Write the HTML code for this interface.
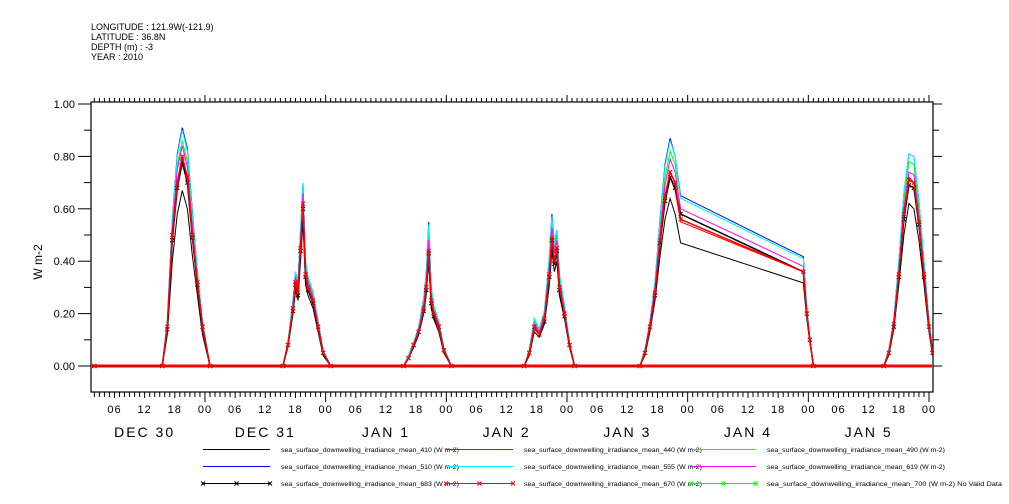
<!DOCTYPE html>
<html><head><meta charset="utf-8"><style>
html,body{margin:0;padding:0;background:#fff;width:1009px;height:504px;overflow:hidden}
svg{display:block;font-family:"Liberation Sans",sans-serif}
</style></head><body>
<svg id="chart" width="1009" height="504" viewBox="0 0 1009 504">
<g font-size="9" fill="#000">
<text x="91" y="30">LONGITUDE : 121.9W(-121.9)</text>
<text x="91" y="40">LATITUDE : 36.8N</text>
<text x="91" y="50">DEPTH (m) : -3</text>
<text x="91" y="60">YEAR : 2010</text>
</g>
<text x="42" y="262" font-size="12" text-anchor="middle" transform="rotate(-90 42 262)">W m-2</text>
<g id="axes"></g>
<g id="series" clip-path="url(#clip)"></g>
<defs><clipPath id="clip"><rect x="91" y="95" width="843" height="300"/></clipPath></defs>
<g id="legend"></g>
</svg>
<script>
const times=[2,
15.5,16.5,17.5,18.5,19.5,20.5,21.5,22.5,23.5,25,
39.5,40.5,41.5,42,42.5,43,43.5,44,44.5,45.5,46.5,47.5,49,
63.5,64.5,65.5,66.5,67.5,68,68.5,69,69.5,70.5,71.5,73,
87.5,88.5,89.5,90.5,91.5,92.5,93,93.5,94,94.5,95.5,96.5,97.5,
110.5,111.5,112.5,113.5,114.5,115.5,116.5,117.5,118.6,143,143.7,144.3,145,
159,160,161,162,163,164,165,166,167,168,168.7];
const s410=[0,
0,.12,.4,.58,.67,.6,.42,.27,.12,0,
0,.07,.2,.29,.25,.4,.55,.31,.27,.22,.13,.04,0,
0,.03,.07,.12,.2,.27,.4,.22,.18,.13,.05,0,
0,.04,.13,.11,.16,.31,.44,.36,.4,.27,.18,.07,0,
0,.04,.13,.25,.42,.56,.64,.58,.47,.317,.18,.09,0,
0,.04,.14,.31,.5,.62,.6,.48,.31,.13,.04];
const s440=[0,
0,.14,.48,.68,.77,.7,.48,.31,.14,0,
0,.08,.21,.31,.27,.44,.6,.34,.29,.24,.14,.05,0,
0,.03,.08,.13,.21,.29,.43,.24,.19,.14,.06,0,
0,.05,.14,.12,.17,.34,.47,.39,.43,.29,.19,.08,0,
0,.05,.14,.27,.46,.62,.72,.67,.55,.36,.2,.1,0,
0,.05,.15,.34,.57,.72,.7,.55,.35,.15,.05];
const s490=[0,
0,.16,.53,.77,.86,.78,.55,.34,.16,0,
0,.09,.24,.35,.31,.5,.68,.38,.33,.27,.16,.06,0,
0,.04,.09,.14,.24,.33,.52,.28,.22,.16,.07,0,
0,.06,.17,.13,.2,.4,.55,.45,.5,.33,.22,.09,0,
0,.06,.16,.31,.53,.72,.82,.77,.64,.41,.21,.11,0,
0,.06,.17,.38,.63,.78,.77,.6,.38,.16,.06];
const s510=[0,
0,.17,.56,.81,.91,.83,.59,.36,.17,0,
0,.09,.25,.36,.32,.52,.7,.4,.34,.28,.17,.06,0,
0,.04,.09,.15,.26,.35,.55,.3,.23,.17,.07,0,
0,.06,.18,.14,.21,.42,.58,.47,.52,.35,.23,.09,0,
0,.06,.17,.32,.56,.77,.87,.8,.65,.417,.22,.11,0,
0,.06,.18,.4,.66,.81,.8,.63,.4,.17,.06];
const s555=[0,
0,.17,.55,.8,.9,.82,.58,.36,.17,0,
0,.09,.25,.36,.32,.52,.7,.4,.34,.28,.17,.06,0,
0,.04,.09,.15,.26,.35,.54,.3,.23,.17,.07,0,
0,.06,.18,.14,.21,.42,.57,.47,.52,.35,.23,.09,0,
0,.06,.17,.32,.55,.76,.86,.8,.64,.41,.22,.11,0,
0,.06,.18,.4,.66,.81,.8,.63,.4,.17,.06];
const s619=[0,
0,.16,.52,.75,.84,.76,.53,.33,.16,0,
0,.08,.23,.34,.3,.48,.66,.37,.32,.26,.16,.05,0,
0,.03,.08,.14,.23,.32,.48,.27,.21,.16,.06,0,
0,.05,.16,.13,.19,.38,.53,.43,.48,.32,.21,.08,0,
0,.05,.16,.3,.5,.69,.79,.74,.6,.38,.21,.1,0,
0,.05,.17,.36,.6,.74,.73,.57,.37,.16,.05];
const s683=[0,
0,.14,.48,.68,.78,.7,.49,.31,.15,0,
0,.08,.21,.31,.27,.44,.6,.34,.29,.24,.15,.05,0,
0,.03,.08,.13,.21,.29,.43,.24,.19,.15,.06,0,
0,.05,.15,.12,.17,.34,.48,.39,.44,.29,.19,.08,0,
0,.05,.15,.27,.47,.63,.72,.68,.58,.36,.2,.1,0,
0,.05,.15,.34,.56,.69,.68,.54,.34,.15,.05];
const s670=[0,
0,.15,.5,.7,.8,.72,.5,.32,.15,0,
0,.08,.22,.32,.28,.45,.62,.35,.3,.25,.15,.05,0,
0,.03,.08,.13,.22,.3,.44,.25,.2,.15,.06,0,
0,.05,.15,.12,.18,.35,.49,.4,.45,.3,.2,.08,0,
0,.05,.15,.28,.48,.65,.74,.7,.56,.36,.2,.1,0,
0,.05,.16,.35,.58,.71,.7,.55,.35,.15,.05];
const yTicks=["0.00","0.20","0.40","0.60","0.80","1.00"];
const hourLabels=["06","12","18","00"];
const dayLabels=["DEC 30","DEC 31","JAN  1","JAN  2","JAN  3","JAN  4","JAN  5"];
const legendNames=["sea_surface_downwelling_irradiance_mean_410 (W m-2)","sea_surface_downwelling_irradiance_mean_440 (W m-2)","sea_surface_downwelling_irradiance_mean_490 (W m-2)","sea_surface_downwelling_irradiance_mean_510 (W m-2)","sea_surface_downwelling_irradiance_mean_555 (W m-2)","sea_surface_downwelling_irradiance_mean_619 (W m-2)","sea_surface_downwelling_irradiance_mean_683 (W m-2)","sea_surface_downwelling_irradiance_mean_670 (W m-2)","sea_surface_downwelling_irradiance_mean_700 (W m-2) No Valid Data"];

const NS="http://www.w3.org/2000/svg";
const X0=91,X1=933,Y0=102,Y1=392;
function xs(h){return 84.3+5.028*h;}
function ys(v){return 366-262*v;}
function mk(tag,attrs,parent){const e=document.createElementNS(NS,tag);for(const k in attrs)e.setAttribute(k,attrs[k]);parent.appendChild(e);return e;}
const axes=document.getElementById('axes');
const frame=mk('rect',{x:X0,y:Y0,width:X1-X0,height:Y1-Y0,fill:'none',stroke:'#000','stroke-width':1.2},axes);


for(let i=0;i<=10;i++){const v=i/10;const y=ys(v);const major=i%2===0;
 const t1=mk('line',{x1:X0-(major?13:7),x2:X0,y1:y,y2:y,stroke:'#000'},axes);
 
 
 const t2=mk('line',{x1:X1,x2:X1+(major?9:6),y1:y,y2:y,stroke:'#000'},axes);
 
 }
yTicks.forEach((lab,i)=>{const t=mk('text',{x:75,y:ys(i*0.2)+4,'font-size':11,'text-anchor':'end'},axes);t.textContent=lab;
 
 });
for(let h=2;h<=168;h++){const x=xs(h);const major=h%24===0;const mid=h%6===0;
 const a=mk('line',{x1:x,x2:x,y1:Y0,y2:Y0-(major?7:4),stroke:'#000'},axes);
 
 
 const b=mk('line',{x1:x,x2:x,y1:Y1,y2:Y1+(major?10:(mid?6:5)),stroke:'#000'},axes);
 
 
 if(mid){const t=mk('text',{x:x,y:413,'font-size':11,'text-anchor':'middle','letter-spacing':'1'},axes);t.textContent=hourLabels[(h/6-1)%4];
  
  }}
dayLabels.forEach((d,i)=>{const t=mk('text',{x:xs(12+24*i),y:437,'font-size':14,'text-anchor':'middle','letter-spacing':'2','font-weight':'300','xml:space':'preserve'},axes);t.textContent=d;
 
 });
const series=[[s410,'#000',false],[s440,'#f00',false],[s490,'#0f0',false],[s510,'#00f',false],[s555,'#0ff',false],[s619,'#f0f',false],[s683,'#000',true],[s670,'#f00',true]];
const sg=document.getElementById('series');
const sNames=['series-410','series-440','series-490','series-510','series-555','series-619','series-683','series-670'];
series.forEach((s,i)=>{const pts=times.map((t,j)=>xs(t).toFixed(1)+','+ys(s[0][j]).toFixed(1)).join(' ');
 const pl=mk('polyline',{points:pts,fill:'none',stroke:s[1],'stroke-width':s[2]?1.5:1},sg);
 
 
 if(s[2]){times.forEach((t,j)=>{const x=xs(t),y=ys(s[0][j]);
  const m=mk('path',{d:`M${x-2},${y-2}L${x+2},${y+2}M${x-2},${y+2}L${x+2},${y-2}`,stroke:s[1],'stroke-width':1},sg);
  
  });}});
const zb=mk('line',{x1:X0+1,x2:X1-1,y1:ys(0),y2:ys(0),stroke:'#f00','stroke-width':3},sg);


sg.insertBefore(zb,sg.firstChild);
const lg=document.getElementById('legend');
const cols=[[203,270,281],[446,513,524],[691,756,767]];
const rowsY=[449.5,466.5,483.5];
const legColors=['#000','#f00','#0f0','#00f','#0ff','#f0f','#000','#f00','#0f0'];
legendNames.forEach((n,i)=>{const r=Math.floor(i/3),c=i%3;const y=rowsY[r];const [a,b,tx]=cols[c];
 const g=mk('g',{},lg);
 
 
 mk('line',{x1:a,x2:b,y1:y,y2:y,stroke:legColors[i]},g);
 if(r===2){[a,(a+b)/2,b].forEach(x=>{mk('path',{d:`M${x-2},${y-2}L${x+2},${y+2}M${x-2},${y+2}L${x+2},${y-2}`,stroke:legColors[i]},g);});}
 const t=mk('text',{x:tx,y:y+2.5,'font-size':6.5,textLength:(i===8?235:178),lengthAdjust:'spacingAndGlyphs'},g);t.textContent=n;});
</script>
</body></html>
